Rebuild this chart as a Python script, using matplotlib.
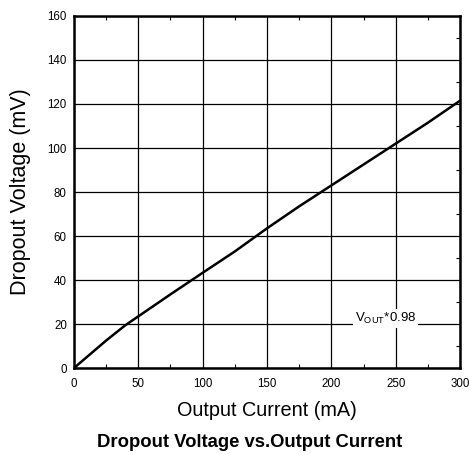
import matplotlib
matplotlib.use("Agg")
from matplotlib import pyplot as plt
from matplotlib.ticker import MultipleLocator

plt.rcParams['font.family'] = ['Liberation Sans', 'DejaVu Sans']

# 数据
current_ma = [0, 25, 40, 50, 75, 100, 125, 150, 175, 200, 225, 250, 275, 300]
dropout_mv = [0, 12.5, 19.5, 23.5, 33.5, 43.3, 53, 63.5, 73.5, 83, 92.5, 102, 111.5, 121.5]
x_ticks = [0, 50, 100, 150, 200, 250, 300]
y_ticks = [0, 20, 40, 60, 80, 100, 120, 140, 160]

fig = plt.figure(figsize=(4.7, 4.54), dpi=100)
ax = fig.add_axes([0.157, 0.189, 0.822, 0.776])

ax.plot(current_ma, dropout_mv, color='black', linewidth=1.8)

ax.set_xlim(0, 300)
ax.set_ylim(0, 160)
ax.set_xticks(x_ticks)
ax.set_yticks(y_ticks)
ax.xaxis.set_minor_locator(MultipleLocator(25))
ax.yaxis.set_minor_locator(MultipleLocator(10))
ax.tick_params(which='both', direction='in', top=True, right=True, labelsize=8.3)
ax.tick_params(axis='x', which='major', length=0, pad=7)
ax.tick_params(axis='y', which='major', length=0, pad=5)
ax.tick_params(which='minor', length=3, width=0.8)
ax.tick_params(axis='y', which='minor', left=False)
ax.grid(True, which='major', color='black', linewidth=0.9)

for s in ax.spines.values():
    s.set_linewidth(1.8)

ax.text(242, 22.5, r'V$_{\mathregular{OUT}}$*0.98', fontsize=9.5, ha='center', va='center',
        bbox=dict(facecolor='white', edgecolor='none', pad=1.5))

ax.set_ylabel("Dropout Voltage (mV)", fontsize=15.5, labelpad=12)
ax.set_xlabel("Output Current (mA)", fontsize=14.3, labelpad=8)
fig.text(0.532, 0.0154, "Dropout Voltage vs.Output Current", fontsize=13.3,
         fontweight='bold', ha='center', va='baseline')

fig.savefig("out.png", dpi=100)
